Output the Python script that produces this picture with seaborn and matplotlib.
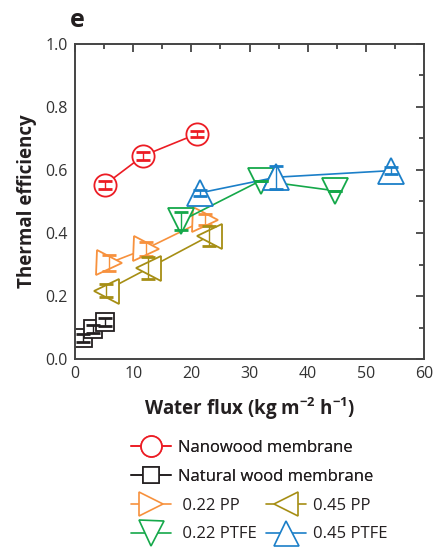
import numpy as np
import pandas as pd
import matplotlib
matplotlib.use("Agg")
import matplotlib.pyplot as plt
import seaborn as sns
from matplotlib.lines import Line2D
from matplotlib.ticker import MultipleLocator, FormatStrFormatter

# ---- data ----
nano_x = [5.1, 11.7, 20.9]
nano_y = [0.553, 0.645, 0.714]
nano_e = [0.012, 0.012, 0.01]

natural_x = [1.4, 3.1, 5.1]
natural_y = [0.066, 0.095, 0.118]
natural_e = [0.012, 0.012, 0.012]

pp022_x = [5.9, 12.2, 22.4]
pp022_y = [0.305, 0.35, 0.442]
pp022_e = [0.025, 0.023, 0.018]

pp045_x = [5.3, 12.6, 23.0]
pp045_y = [0.217, 0.288, 0.39]
pp045_e = [0.02, 0.035, 0.032]

ptfe022_x = [18.2, 31.9, 44.7]
ptfe022_y = [0.438, 0.566, 0.534]
ptfe022_e = [0.03, 0.0, 0.0]

ptfe045_x = [21.4, 34.6, 54.4]
ptfe045_y = [0.527, 0.577, 0.598]
ptfe045_e = [0.01, 0.037, 0.012]

labels = ["Nanowood membrane", "Natural wood membrane", " 0.22 PP", "0.45 PP",
          " 0.22 PTFE", "0.45 PTFE"]
colors = ["#ec1c24", "#231f20", "#f7913d", "#a68e14", "#15a84a", "#1b7fc8"]
markers = ["o", "s", ">", "<", "v", "^"]
msizes = [16, 13, 18, 18, 19, 19]

series = [
    (nano_x, nano_y, nano_e),
    (natural_x, natural_y, natural_e),
    (pp022_x, pp022_y, pp022_e),
    (pp045_x, pp045_y, pp045_e),
    (ptfe022_x, ptfe022_y, ptfe022_e),
    (ptfe045_x, ptfe045_y, ptfe045_e),
]

sns.set_style("white")
plt.rcParams["font.family"] = ["Open Sans", "DejaVu Sans"]
plt.rcParams["mathtext.fontset"] = "custom"
plt.rcParams["mathtext.rm"] = "Open Sans"
plt.rcParams["mathtext.bf"] = "Open Sans:bold"
plt.rcParams["mathtext.default"] = "bf"

fig = plt.figure(figsize=(4.44, 5.49), dpi=100)
ax = fig.add_axes([0.169, 0.346, 0.786, 0.574])

for (x, y, e), lab, c, m, ms in zip(series, labels, colors, markers, msizes):
    df = pd.DataFrame({"x": x, "y": y})
    sns.lineplot(data=df, x="x", y="y", ax=ax, color=c, marker=m, markersize=ms,
                 markerfacecolor="white", markeredgecolor=c, markeredgewidth=1.3,
                 linewidth=1.2, sort=False, legend=False)
    ax.errorbar(x, y, yerr=e, fmt="none", ecolor=c, elinewidth=1.0,
                capsize=5, capthick=2, zorder=5)

ax.set_xlim(0, 60)
ax.set_ylim(0, 1.0)
ax.xaxis.set_major_locator(MultipleLocator(10))
ax.xaxis.set_minor_locator(MultipleLocator(5))
ax.yaxis.set_major_locator(MultipleLocator(0.2))
ax.yaxis.set_minor_locator(MultipleLocator(0.1))
ax.yaxis.set_major_formatter(FormatStrFormatter("%.1f"))
ax.tick_params(which="both", direction="in", top=True, right=True,
               color="#444444", width=1.3, labelsize=11.5, labelcolor="#333333")
ax.tick_params(axis="x", which="both", pad=5)
ax.tick_params(axis="y", which="both", pad=5)
ax.tick_params(which="major", length=6)
ax.tick_params(which="minor", length=3.5)
for s in ax.spines.values():
    s.set_color("#444444")
    s.set_linewidth(1.4)

ax.set_xlabel(r"Water flux (kg m$^{-2}$ h$^{-1}$)", fontsize=13.5, fontweight="bold",
              color="#231f20", labelpad=10)
ax.set_ylabel("Thermal efficiency", fontsize=13.5, fontweight="bold",
              color="#231f20", labelpad=6)

fig.text(0.158, 0.963, "e", fontsize=18, fontweight="bold", color="#231f20",
         ha="left", va="center")

def handle(i):
    return Line2D([], [], color=colors[i], marker=markers[i], markersize=msizes[i] - 1,
                  markerfacecolor="white", markeredgecolor=colors[i],
                  markeredgewidth=1.2, linewidth=1.2)

leg1 = fig.legend([handle(0), handle(1)], [labels[0], labels[1]],
                  loc="upper left", bbox_to_anchor=(0.295, 0.198), frameon=False,
                  fontsize=12, handlelength=2.4, handletextpad=0.4,
                  labelspacing=0.75, borderpad=0, borderaxespad=0,
                  labelcolor="#231f20")
leg2 = fig.legend([handle(2), handle(4), handle(3), handle(5)],
                  [labels[2], labels[4], labels[3], labels[5]],
                  loc="upper left", bbox_to_anchor=(0.295, 0.093), frameon=False,
                  fontsize=12, handlelength=2.4, handletextpad=0.4, ncol=2,
                  columnspacing=0.6, labelspacing=0.75, borderpad=0, borderaxespad=0,
                  labelcolor="#231f20")
fig.add_artist(leg1)

fig.savefig("out.png", dpi=100)
